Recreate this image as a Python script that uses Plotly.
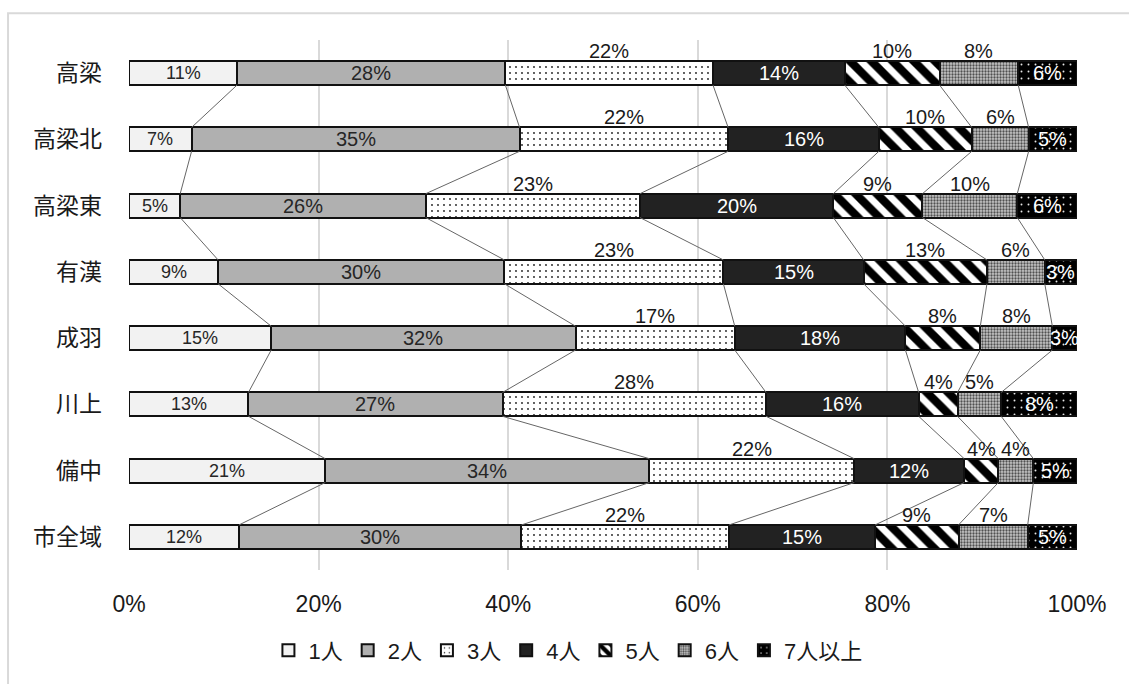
import plotly.graph_objects as go

# Household size composition by district (share of households, %)
districts = ["高梁", "高梁北", "高梁東", "有漢", "成羽", "川上", "備中", "市全域"]
sizes = ["1人", "2人", "3人", "4人", "5人", "6人", "7人以上"]

p1 = [11.4, 6.6, 5.4, 9.4, 15.0, 12.6, 20.7, 11.6]
p2 = [28.3, 34.6, 25.9, 30.2, 32.1, 26.8, 34.2, 29.8]
p3 = [21.9, 22.0, 22.6, 23.1, 16.8, 27.8, 21.6, 21.9]
p4 = [13.9, 15.9, 20.4, 14.8, 18.0, 16.1, 11.6, 15.4]
p5 = [10.0, 9.8, 9.4, 13.0, 7.9, 4.1, 3.6, 8.8]
p6 = [8.3, 6.0, 10.0, 6.1, 7.6, 4.6, 3.7, 7.3]
p7 = [6.2, 5.1, 6.3, 3.4, 2.6, 8.0, 4.6, 5.2]

series = [p1, p2, p3, p4, p5, p6, p7]
tick_values = [0, 20, 40, 60, 80, 100]

FONT = "Liberation Sans, Arial, Noto Sans CJK JP, sans-serif"
BAR_W = 0.36

# fill styles per household size
styles = [
    dict(color="#f2f2f2", pattern=None),
    dict(color="#b0b0b0", pattern=None),
    dict(color="#ffffff", pattern=dict(shape=".", fgcolor="#000000", bgcolor="#ffffff",
                                       size=6, solidity=0.07, fgopacity=0.9)),
    dict(color="#222222", pattern=None),
    dict(color="#ffffff", pattern=dict(shape="\\", fgcolor="#000000", bgcolor="#ffffff",
                                       size=15, solidity=0.55, fgopacity=1)),
    dict(color="#9c9c9c", pattern=dict(shape=".", fgcolor="#505050", bgcolor="#c6c6c6",
                                       size=3, solidity=0.45, fgopacity=1)),
    dict(color="#000000", pattern=dict(shape=".", fgcolor="#ffffff", bgcolor="#000000",
                                       size=7, solidity=0.06, fgopacity=0.9)),
]

# label placement: inside the segment or above it, with font size and colour
label_style = [
    ("in", 18, "#262626"),
    ("in", 20, "#262626"),
    ("above", 20, "#1a1a1a"),
    ("in", 20, "#ffffff"),
    ("above", 20, "#1a1a1a"),
    ("above", 20, "#1a1a1a"),
    ("in", 20, "#ffffff"),
]

ypos = list(range(len(districts)))

fig = go.Figure()

for name, vals, st in zip(sizes, series, styles):
    marker = dict(color=st["color"], line=dict(color="#111111", width=2))
    if st["pattern"] is not None:
        marker["pattern"] = st["pattern"]
    fig.add_trace(go.Bar(
        name=name, x=vals, y=ypos, orientation="h", width=BAR_W,
        marker=marker, hoverinfo="x+name",
    ))

# cumulative boundaries per district
cums = []
for i in range(len(districts)):
    acc, row = 0.0, [0.0]
    for s in series:
        acc += s[i]
        row.append(acc)
    cums.append(row)

# series lines joining matching segment boundaries of neighbouring bars
lx, ly = [], []
for i in range(len(districts) - 1):
    for k in range(1, len(series)):
        lx += [cums[i][k], cums[i + 1][k], None]
        ly += [ypos[i] + BAR_W / 2, ypos[i + 1] - BAR_W / 2, None]
fig.add_trace(go.Scatter(
    x=lx, y=ly, mode="lines", line=dict(color="#666666", width=1),
    showlegend=False, hoverinfo="skip",
))

# percentage labels
annotations = []
for i in range(len(districts)):
    for k, s in enumerate(series):
        where, fsize, fcol = label_style[k]
        cx = (cums[i][k] + cums[i][k + 1]) / 2
        annotations.append(dict(
            x=cx, y=ypos[i], xref="x", yref="y",
            text=f"{s[i]:.0f}%", showarrow=False,
            font=dict(family=FONT, size=fsize, color=fcol),
            xanchor="center", yanchor="middle",
            yshift=22 if where == "above" else 0,
        ))

fig.update_layout(
    width=1129, height=684,
    margin=dict(l=129, r=52, t=40, b=111),
    paper_bgcolor="#ffffff", plot_bgcolor="#ffffff",
    barmode="stack", bargap=0,
    font=dict(family=FONT, size=22, color="#1a1a1a"),
    annotations=annotations,
    showlegend=True,
    legend=dict(
        orientation="h", x=0.463, xanchor="center", y=-0.152, yanchor="middle",
        font=dict(family=FONT, size=22, color="#1a1a1a"),
        itemwidth=30, traceorder="normal",
    ),
    shapes=[dict(
        type="rect", xref="paper", yref="paper",
        x0=-0.1276, x1=1.3, y0=-0.4, y1=1.0507,
        line=dict(color="#d9d9d9", width=2), fillcolor="rgba(0,0,0,0)", layer="below",
    )],
)

fig.update_xaxes(
    range=[0, 100], tickvals=tick_values, ticktext=[f"{v}%" for v in tick_values],
    showgrid=True, gridcolor="#d9d9d9", gridwidth=2, zeroline=False,
    showline=False, ticks="", ticklabelstandoff=18,
    tickfont=dict(family=FONT, size=23, color="#1a1a1a"), fixedrange=True,
)
fig.update_yaxes(
    range=[len(districts) - 0.5, -0.5], tickvals=ypos, ticktext=districts,
    showgrid=False, zeroline=False, showline=False, ticks="", ticklabelstandoff=26,
    tickfont=dict(family="Noto Sans CJK JP, sans-serif", size=23, color="#1a1a1a"),
    fixedrange=True,
)

fig.write_html("out.html")
